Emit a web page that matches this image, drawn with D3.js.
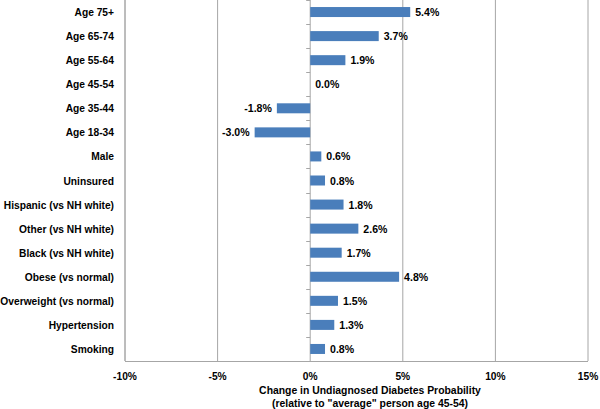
<!DOCTYPE html>
<html><head><meta charset="utf-8">
<script src="https://cdn.jsdelivr.net/npm/d3@7"></script>
<style>body{margin:0;background:#fff}text{font-family:"Liberation Sans",Arial,Helvetica,sans-serif;font-weight:bold;font-size:11.5px;fill:#000}</style>
</head><body><svg id="c" width="600" height="409"></svg>
<script>
const categories = ["Age 75+","Age 65-74","Age 55-64","Age 45-54","Age 35-44","Age 18-34","Male","Uninsured","Hispanic (vs NH white)","Other (vs NH white)","Black (vs NH white)","Obese (vs normal)","Overweight (vs normal)","Hypertension","Smoking"];
const values = [5.4,3.7,1.9,0.0,-1.8,-3.0,0.6,0.8,1.8,2.6,1.7,4.8,1.5,1.3,0.8];
const xTicks = [-10,-5,0,5,10,15];
const titleLines = ["Change in Undiagnosed Diabetes Probability","(relative to \"average\" person age 45-54)"];

const svg = d3.select("#c");
const L=125,R=588,T=0,B=361;
const x = d3.scaleLinear().domain([-10,15]).range([L,R]);
const y = d3.scaleBand().domain(categories).range([T,B]);
const tr = (px,py,s)=>`translate(${px},${py}) scale(${s},1)`;

// gridlines
svg.append("g").selectAll("line").data(xTicks).join("line")
  .attr("x1",d=>x(d)).attr("x2",d=>x(d)).attr("y1",T).attr("y2",B)
  .attr("stroke","#a6a6a6").attr("stroke-width",1);
// frame left & bottom
svg.append("line").attr("x1",L).attr("x2",L).attr("y1",T).attr("y2",B).attr("stroke","#a6a6a6");
svg.append("line").attr("x1",L).attr("x2",R).attr("y1",B+0.5).attr("y2",B+0.5).attr("stroke","#a6a6a6");
// zero axis ticks at category boundaries
const bounds = categories.map(c=>y(c)).concat([B]);
svg.append("g").selectAll("line").data(bounds).join("line")
  .attr("x1",x(0)-4).attr("x2",x(0)).attr("y1",d=>Math.round(d)+0.5).attr("y2",d=>Math.round(d)+0.5)
  .attr("stroke","#a6a6a6");

// bars
const bh=10;
svg.append("g").selectAll("rect").data(values).join("rect")
  .attr("x",d=>x(Math.min(0,d))).attr("width",d=>Math.abs(x(d)-x(0)))
  .attr("y",(d,i)=>y(categories[i])+y.bandwidth()/2-bh/2).attr("height",bh)
  .attr("fill","#4a7ebb");

// value labels
svg.append("g").selectAll("text").data(values).join("text")
  .attr("transform",(d,i)=>tr(d<0?x(d)-5:x(d)+5, y(categories[i])+y.bandwidth()/2, 0.92))
  .attr("dy","0.35em").attr("text-anchor",d=>d<0?"end":"start")
  .text(d=>d.toFixed(1)+"%");

// category labels
svg.append("g").selectAll("text").data(categories).join("text")
  .attr("transform",d=>tr(114, y(d)+y.bandwidth()/2, 0.89)).attr("dy","0.35em")
  .attr("text-anchor","end").text(d=>d);

// x tick labels
svg.append("g").selectAll("text").data(xTicks).join("text")
  .attr("transform",d=>tr(x(d),376,0.89)).attr("dy","0.35em").attr("text-anchor","middle")
  .text(d=>d+"%");

// title
svg.append("g").selectAll("text").data(titleLines).join("text")
  .attr("transform",(d,i)=>tr(370,390+i*13,0.905)).attr("dy","0.35em").attr("text-anchor","middle")
  .text(d=>d);
</script></body></html>
